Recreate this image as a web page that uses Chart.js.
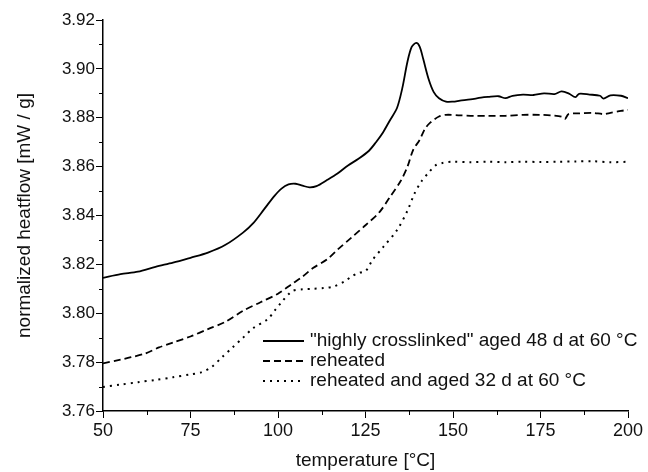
<!DOCTYPE html>
<html lang="en">
<head>
<meta charset="UTF-8">
<title>Normalized heatflow</title>
<style>
  body { margin: 0; background: #fff; }
  canvas { display: block; }
</style>
</head>
<body>
<canvas id="dsc" width="648" height="472"></canvas>
<script src="https://cdn.jsdelivr.net/npm/chart.js"></script>
<script>
// "highly crosslinked" aged 48 d at 60 °C
const tempAged = [50, 55, 60, 65, 70, 75, 80, 85, 90, 93, 96, 99, 101, 103, 105, 107, 109, 111, 114, 117, 120, 123, 126, 128, 130, 132, 134, 135.5, 137, 138.2, 139.5, 140.5, 141.5, 143, 144.5, 146, 148, 150, 152, 155, 158, 160, 163, 165, 167, 170, 173, 176, 179, 181, 183, 185, 186, 189, 192, 193, 195, 198, 200];
const flowAged = [3.8145, 3.8160, 3.8170, 3.8190, 3.8207, 3.8227, 3.8248, 3.8280, 3.8330, 3.8370, 3.8425, 3.8480, 3.8510, 3.8527, 3.8530, 3.8522, 3.8515, 3.8520, 3.8545, 3.8572, 3.8605, 3.8632, 3.8665, 3.8700, 3.8740, 3.8790, 3.8840, 3.8920, 3.9030, 3.9090, 3.9106, 3.9090, 3.9040, 3.8960, 3.8905, 3.8880, 3.8866, 3.8866, 3.8870, 3.8875, 3.8882, 3.8885, 3.8888, 3.8880, 3.8890, 3.8895, 3.8893, 3.8900, 3.8897, 3.8908, 3.8900, 3.8884, 3.8898, 3.8895, 3.8890, 3.8878, 3.8892, 3.8890, 3.8880];

// reheated
const tempReheated = [50, 55, 58, 62, 66, 70, 75, 80, 85, 90, 95, 100, 104, 107, 110, 114, 117, 121, 125, 129, 132, 135, 137, 138.6, 140.5, 142, 143.5, 146, 148, 152, 156, 160, 165, 170, 175, 178, 181, 182, 183, 186, 190, 193, 195, 198, 200];
const flowReheated = [3.7795, 3.7810, 3.7820, 3.7835, 3.7860, 3.7880, 3.7905, 3.7935, 3.7965, 3.8010, 3.8045, 3.8080, 3.8120, 3.8150, 3.8185, 3.8220, 3.8260, 3.8310, 3.8360, 3.8414, 3.8476, 3.8540, 3.8600, 3.8668, 3.8710, 3.8755, 3.8780, 3.8805, 3.8812, 3.8810, 3.8808, 3.8808, 3.8808, 3.8812, 3.8812, 3.8810, 3.8805, 3.8795, 3.8815, 3.8818, 3.8820, 3.8815, 3.8820, 3.8828, 3.8832];

// reheated and aged 32 d at 60 °C
const tempReaged = [50, 55, 60, 65, 70, 75, 78, 81, 84, 87, 90, 93, 97, 99, 101, 104, 107, 110, 113, 116, 119, 121, 123, 125, 127, 130, 134, 137, 139, 141, 143, 145, 147, 150, 155, 160, 165, 170, 175, 180, 185, 190, 195, 200];
const flowReaged = [3.7698, 3.7708, 3.7718, 3.7727, 3.7738, 3.7750, 3.7758, 3.7780, 3.7820, 3.7860, 3.7900, 3.7940, 3.7975, 3.8010, 3.8045, 3.8090, 3.8098, 3.8100, 3.8103, 3.8110, 3.8130, 3.8150, 3.8165, 3.8172, 3.8218, 3.8270, 3.8340, 3.8420, 3.8490, 3.8540, 3.8575, 3.8605, 3.8615, 3.8620, 3.8618, 3.8620, 3.8618, 3.8620, 3.8619, 3.8620, 3.8621, 3.8622, 3.8618, 3.8620];

const seriesLabels = ['"highly crosslinked" aged 48 d at 60 °C', 'reheated', 'reheated and aged 32 d at 60 °C'];

const FONT = 'Liberation Sans, Arial, sans-serif';
const pts = (xs, ys) => xs.map((x, i) => ({ x: x, y: ys[i] }));

// small ticks between the labelled ones
const minorTicks = {
  id: 'minorTicks',
  afterDraw(chart) {
    const { ctx, scales: { x, y } } = chart;
    ctx.save();
    ctx.strokeStyle = '#000';
    ctx.lineWidth = 1;
    for (let v = 62.5; v < 200; v += 25) {
      const px = Math.round(x.getPixelForValue(v)) + 0.5;
      ctx.beginPath(); ctx.moveTo(px, x.top); ctx.lineTo(px, x.top + 4); ctx.stroke();
    }
    for (let i = 0; i < 8; i++) {
      const py = Math.round(y.getPixelForValue(3.77 + i * 0.02)) + 0.5;
      ctx.beginPath(); ctx.moveTo(y.right, py); ctx.lineTo(y.right - 4, py); ctx.stroke();
    }
    ctx.restore();
  }
};

// legend inside the plot, lower right
const innerLegend = {
  id: 'innerLegend',
  afterDraw(chart) {
    const { ctx, chartArea } = chart;
    const x0 = chartArea.left + 160;
    let yy = chartArea.bottom - 70;
    ctx.save();
    ctx.font = '19px ' + FONT;
    ctx.fillStyle = '#111';
    ctx.textBaseline = 'middle';
    chart.data.datasets.forEach(ds => {
      ctx.strokeStyle = '#000';
      ctx.lineWidth = ds.borderWidth;
      ctx.setLineDash(ds.borderDash || []);
      ctx.beginPath(); ctx.moveTo(x0, yy); ctx.lineTo(x0 + 41, yy); ctx.stroke();
      ctx.setLineDash([]);
      ctx.fillText(ds.label, x0 + 47, yy);
      yy += 20;
    });
    ctx.restore();
  }
};

new Chart(document.getElementById('dsc'), {
  type: 'line',
  data: {
    datasets: [
      { label: seriesLabels[0], data: pts(tempAged, flowAged), borderColor: '#000', borderWidth: 1.8, pointRadius: 0, tension: 0.3 },
      { label: seriesLabels[1], data: pts(tempReheated, flowReheated), borderColor: '#000', borderWidth: 1.8, borderDash: [7, 4], pointRadius: 0, tension: 0.3 },
      { label: seriesLabels[2], data: pts(tempReaged, flowReaged), borderColor: '#000', borderWidth: 2, borderDash: [2, 5], pointRadius: 0, tension: 0.3 }
    ]
  },
  options: {
    responsive: false,
    animation: false,
    devicePixelRatio: 1,
    layout: { padding: { top: 20, right: 20, left: 0, bottom: 0 } },
    plugins: { legend: { display: false }, tooltip: { enabled: false } },
    scales: {
      x: {
        type: 'linear',
        min: 50,
        max: 200,
        afterFit: s => { s.height = 61; },
        ticks: { stepSize: 25, color: '#111', font: { family: FONT, size: 18 }, padding: 2, maxRotation: 0 },
        grid: { drawOnChartArea: false, drawTicks: true, tickLength: 7, color: '#000', tickWidth: 1 },
        border: { color: '#000', width: 1.5 },
        title: { display: true, text: 'temperature [°C]', color: '#111', font: { family: FONT, size: 19 }, padding: { top: 0, bottom: 0 } }
      },
      y: {
        min: 3.76,
        max: 3.92,
        afterFit: s => { s.width = 103; },
        ticks: { stepSize: 0.02, color: '#111', font: { family: FONT, size: 17 }, padding: 1, callback: v => v.toFixed(2) },
        grid: { drawOnChartArea: false, drawTicks: true, tickLength: 7, color: '#000', tickWidth: 1 },
        border: { color: '#000', width: 1.5 },
        title: { display: true, text: 'normalized heatflow [mW / g]', color: '#111', font: { family: FONT, size: 19 }, padding: { top: 13, bottom: 0 } }
      }
    }
  },
  plugins: [minorTicks, innerLegend]
});
</script>
</body>
</html>
